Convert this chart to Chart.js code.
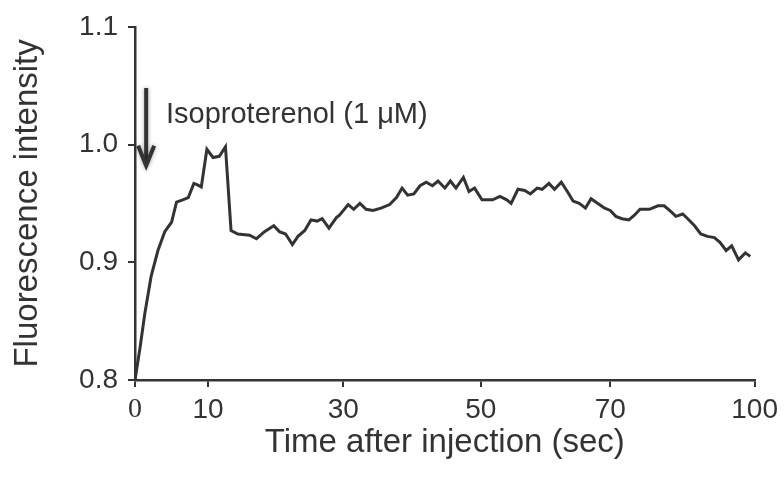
<!DOCTYPE html>
<html>
<head>
<meta charset="utf-8">
<script src="https://cdn.jsdelivr.net/npm/chart.js@4/dist/chart.umd.min.js"></script>
<style>
  html, body { margin: 0; padding: 0; background: #ffffff; }
  #wrap { width: 784px; height: 478px; }
</style>
</head>
<body>
<div id="wrap"><canvas id="c" width="784" height="478"></canvas></div>
<script>
// ---- data (x in axis units, as drawn) ----
const time = [0, 0.8, 1.6, 2.6, 3.7, 4.8, 5.9, 6.7, 7.7, 8.6, 9.5, 10.0, 10.7, 11.6, 12.6, 13.6, 14.6, 15.5, 16.6, 18.5,
  19.6, 20.9, 22.4, 23.3, 24.3, 25.4, 26.3, 27.4, 28.4, 29.4, 30.2, 31.3, 32.5, 33.0, 34.4, 35.3, 36.3, 37.3, 38.4, 39.7,
  41.1, 42.2, 43.1, 44.0, 45.0, 46.0, 47.0, 48.0, 48.9, 50.0, 50.9, 51.8, 53.0, 53.9, 54.8, 56.0, 57.7, 58.9, 60.0, 60.7,
  61.8, 62.9, 63.8, 64.9, 65.7, 66.8, 67.7, 68.8, 69.9, 70.7, 71.7, 72.7, 73.6, 74.7, 75.8, 76.7, 77.6, 78.6, 79.7, 80.6,
  81.5, 83.0, 84.4, 85.4, 86.5, 87.3, 88.4, 89.2, 90.3, 91.3, 92.4, 93.5, 94.4, 95.4, 96.3, 97.4, 98.5, 99.3];
const intensity = [0.800, 0.827, 0.857, 0.888, 0.910, 0.926, 0.934, 0.951, 0.953, 0.955, 0.967, 0.966, 0.964, 0.996, 0.989, 0.990, 0.998, 0.927, 0.924, 0.923,
  0.920, 0.926, 0.931, 0.926, 0.924, 0.915, 0.922, 0.927, 0.936, 0.935, 0.937, 0.929, 0.938, 0.940, 0.949, 0.945, 0.950, 0.945, 0.944, 0.946,
  0.949, 0.955, 0.963, 0.957, 0.958, 0.965, 0.968, 0.965, 0.969, 0.963, 0.969, 0.963, 0.972, 0.960, 0.963, 0.953, 0.953, 0.956, 0.953, 0.950,
  0.962, 0.961, 0.958, 0.963, 0.962, 0.967, 0.962, 0.968, 0.959, 0.952, 0.950, 0.946, 0.954, 0.950, 0.946, 0.944, 0.939, 0.937, 0.936, 0.940,
  0.945, 0.945, 0.948, 0.948, 0.943, 0.939, 0.941, 0.937, 0.931, 0.924, 0.922, 0.921, 0.917, 0.910, 0.914, 0.902, 0.908, 0.905];

// x tick positions (where the reference draws them) and their labels
const xTickPos = [0, 11.8, 33.6, 55.8, 76.7, 100];
const xTickLabels = ['0', '10', '30', '50', '70', '100'];
const yTicks = [0.8, 0.9, 1.0, 1.1];

const xTitle = 'Time after injection (sec)';
const yTitle = 'Fluorescence intensity';
const annotationText = 'Isoproterenol (1 \u03bcM)';
// arrow (data coords): x, top value, tip value; label anchor
const arrowX = 1.8, arrowTop = 1.048, arrowTip = 0.982;
const labelX = 5.0, labelY = 1.025;

const INK = '#333333';
const SANS = "'Liberation Sans', Arial, sans-serif";

const annotationPlugin = {
  id: 'arrowNote',
  afterDatasetsDraw(chart) {
    const { ctx, scales: { x, y } } = chart;
    const ax = x.getPixelForValue(arrowX);
    const y0 = y.getPixelForValue(arrowTop);
    const y1 = y.getPixelForValue(arrowTip);
    ctx.save();
    ctx.strokeStyle = INK;
    ctx.lineWidth = 4;
    ctx.lineCap = 'butt';
    ctx.lineJoin = 'miter';
    ctx.shadowColor = 'rgba(0,0,0,0.35)';
    ctx.shadowBlur = 4;
    ctx.beginPath();
    ctx.moveTo(ax, y0);
    ctx.lineTo(ax, y1 - 2);
    ctx.stroke();
    ctx.beginPath();
    ctx.moveTo(ax - 8, y1 - 20);
    ctx.lineTo(ax, y1);
    ctx.lineTo(ax + 8, y1 - 20);
    ctx.stroke();
    ctx.restore();

    ctx.save();
    ctx.fillStyle = INK;
    ctx.font = "29px " + SANS;
    ctx.textAlign = 'left';
    ctx.textBaseline = 'middle';
    ctx.fillText(annotationText, x.getPixelForValue(labelX), y.getPixelForValue(labelY));
    ctx.restore();
  }
};

const bgPlugin = {
  id: 'bg',
  beforeDraw(chart) {
    const ctx = chart.ctx;
    ctx.save();
    ctx.fillStyle = '#ffffff';
    ctx.fillRect(0, 0, chart.width, chart.height);
    ctx.restore();
  }
};

new Chart(document.getElementById('c'), {
  type: 'line',
  data: {
    datasets: [{
      data: time.map((t, i) => ({ x: t, y: intensity[i] })),
      borderColor: INK,
      borderWidth: 3,
      pointRadius: 0,
      tension: 0,
      fill: false
    }]
  },
  options: {
    responsive: false,
    animation: false,
    layout: { padding: { top: 22, right: 27, left: 0, bottom: 0 } },
    plugins: { legend: { display: false }, tooltip: { enabled: false } },
    scales: {
      x: {
        type: 'linear',
        min: 0,
        max: 100,
        afterBuildTicks: (s) => { s.ticks = xTickPos.map(v => ({ value: v })); },
        afterFit: (s) => { s.height = 98; },
        border: { display: true, color: INK, width: 2.5 },
        grid: { drawOnChartArea: false, drawTicks: true, tickLength: 7, color: INK, lineWidth: 2 },
        ticks: {
          color: INK,
          padding: 6,
          maxRotation: 0,
          autoSkip: false,
          font: (c) => ({ size: 28, family: (c.index === 0 ? "'Liberation Serif', 'Times New Roman', serif" : SANS) }),
          callback: (v, i) => xTickLabels[i]
        },
        title: {
          display: true,
          text: xTitle,
          color: INK,
          font: { size: 33, family: SANS },
          padding: { top: 0, bottom: 15 }
        }
      },
      y: {
        type: 'linear',
        min: 0.8,
        max: 1.1,
        afterBuildTicks: (s) => { s.ticks = yTicks.map(v => ({ value: v })); },
        afterFit: (s) => { s.width = 135; },
        border: { display: true, color: INK, width: 2.5 },
        grid: { drawOnChartArea: false, drawTicks: true, tickLength: 7, color: INK, lineWidth: 2 },
        ticks: {
          color: INK,
          padding: 10,
          font: { size: 28, family: SANS },
          callback: (v) => Number(v).toFixed(1)
        },
        title: {
          display: true,
          text: yTitle,
          color: INK,
          font: { size: 33, family: SANS },
          padding: { top: 8, bottom: 0 }
        }
      }
    }
  },
  plugins: [bgPlugin, annotationPlugin]
});
</script>
</body>
</html>
